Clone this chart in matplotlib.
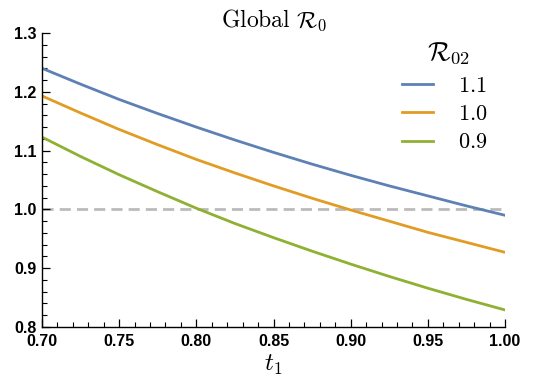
import matplotlib
matplotlib.use("Agg")
import matplotlib.pyplot as plt
from matplotlib.ticker import MultipleLocator, FormatStrFormatter

plt.rcParams['mathtext.fontset'] = 'cm'

t1 = [0.700, 0.725, 0.750, 0.775, 0.800, 0.825, 0.850, 0.875, 0.900, 0.925, 0.950, 0.975, 1.000]
r_11 = [1.240, 1.213, 1.187, 1.163, 1.140, 1.118, 1.097, 1.077, 1.058, 1.040, 1.023, 1.006, 0.990]
r_10 = [1.193, 1.164, 1.136, 1.110, 1.085, 1.062, 1.040, 1.019, 0.999, 0.980, 0.961, 0.944, 0.927]
r_09 = [1.123, 1.090, 1.059, 1.030, 1.002, 0.976, 0.952, 0.929, 0.907, 0.886, 0.866, 0.847, 0.829]
labels = ["$1.1$", "$1.0$", "$0.9$"]
colors = ["#5E81B5", "#E19C24", "#8FB032"]
threshold = 1.0

fig = plt.figure(figsize=(5.38, 3.81), dpi=100)
ax = fig.add_axes([42/538, 1-327/381, (505-42)/538, (327-33)/381])

ax.axhline(threshold, color="#BBBBBB", lw=2, ls=(0, (4, 2.2)), zorder=1)
for ys, lab, c in zip([r_11, r_10, r_09], labels, colors):
    ax.plot(t1, ys, color=c, lw=2, label=lab, zorder=2)

ax.set_xlim(0.70, 1.00)
ax.set_ylim(0.8, 1.3)
ax.xaxis.set_major_locator(MultipleLocator(0.05))
ax.xaxis.set_minor_locator(MultipleLocator(0.01))
ax.yaxis.set_major_locator(MultipleLocator(0.1))
ax.yaxis.set_minor_locator(MultipleLocator(0.02))
ax.xaxis.set_major_formatter(FormatStrFormatter('%.2f'))
ax.yaxis.set_major_formatter(FormatStrFormatter('%.1f'))

for s in ['top', 'right']:
    ax.spines[s].set_visible(False)
for s in ['left', 'bottom']:
    ax.spines[s].set_linewidth(1.0)

ax.tick_params(which='major', direction='in', length=6, width=0.9)
ax.tick_params(which='minor', direction='in', length=3.5, width=0.8)
ax.tick_params(axis='x', which='major', pad=5)
ax.tick_params(axis='y', which='major', pad=4)
for lbl in ax.get_xticklabels() + ax.get_yticklabels():
    lbl.set_fontfamily('Liberation Sans')
    lbl.set_fontweight('bold')
    lbl.set_fontsize(11.5)

ax.set_xlabel("$t_1$", fontsize=18, labelpad=3)
ax.set_title(r"$\mathrm{Global}\ \mathcal{R}_0$", fontsize=17, pad=3)

leg = ax.legend(frameon=False, fontsize=16, loc='upper left',
                bbox_to_anchor=(402/538, 1-76/381), bbox_transform=fig.transFigure,
                handlelength=1.4, handletextpad=1.1, labelspacing=0.37,
                borderaxespad=0, borderpad=0)
fig.text(449/538, 1-53/381, r"$\mathcal{R}_{02}$", fontsize=19, ha='center', va='center')

fig.savefig("out.png", dpi=100)
